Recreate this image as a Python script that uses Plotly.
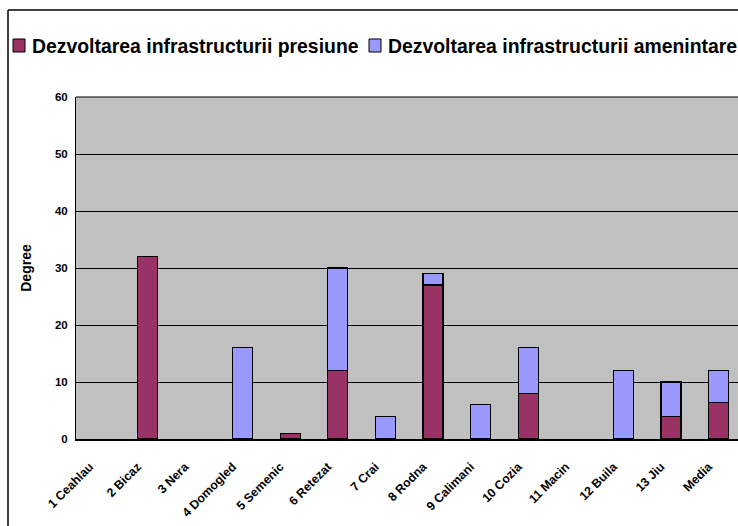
import plotly.graph_objects as go

categories = ["1 Ceahlau", "2 Bicaz", "3 Nera", "4 Domogled", "5 Semenic", "6 Retezat",
              "7 Crai", "8 Rodna", "9 Calimani", "10 Cozia", "11 Macin", "12 Buila",
              "13 Jiu", "Media"]
presiune = [0, 32, 0, 0, 1, 12, 0, 27, 0, 8, 0, 0, 4, 6.46]
amenintare = [0, 0, 0, 16, 0, 18, 4, 2, 6, 8, 0, 12, 6, 5.54]
y_ticks = [0, 10, 20, 30, 40, 50, 60]
series_names = ["Dezvoltarea infrastructurii presiune", "Dezvoltarea infrastructurii amenintare"]
series_colors = ["#993366", "#9999FF"]

W, H = 738, 526
L, R, T, B = 76, 0, 97, 87
pw = W - L - R
ph = H - T - B
step = 47.6
xmax = -0.5 + pw / step


def px2x(px):
    return (px - L) / pw


def py2y(py):
    return (H - B - py) / ph


fig = go.Figure()
for vals, name, col in zip([presiune, amenintare], series_names, series_colors):
    fig.add_trace(go.Bar(x=categories, y=[v if v else None for v in vals], name=name,
                         marker=dict(color=col, line=dict(color="black", width=1.3)),
                         width=0.42, showlegend=False, hoverinfo="skip"))

# manual legend (swatches + text)
shapes = []
annotations = []
legend_swatch_x = [13, 369]
for sx, name, col in zip(legend_swatch_x, series_names, series_colors):
    shapes.append(dict(type="rect", xref="paper", yref="paper",
                       x0=px2x(sx), x1=px2x(sx + 12), y0=py2y(52), y1=py2y(39),
                       fillcolor=col, line=dict(color="black", width=1)))
    annotations.append(dict(text=name, xref="paper", yref="paper", x=px2x(sx + 18),
                            y=py2y(46), xanchor="left", yanchor="middle", showarrow=False,
                            font=dict(size=19.4, weight="bold", color="black"), borderpad=0))

shapes += [
    dict(type="line", xref="paper", yref="paper", x0=px2x(8), x1=px2x(8),
         y0=py2y(10), y1=py2y(530), line=dict(color="black", width=1.5)),
    dict(type="line", xref="paper", yref="paper", x0=px2x(8), x1=px2x(745),
         y0=py2y(10), y1=py2y(10), line=dict(color="black", width=1.5)),
    dict(type="line", xref="paper", yref="paper", x0=0, x1=1, y0=1, y1=1,
         line=dict(color="black", width=1)),
]

fig.update_layout(
    width=W, height=H,
    barmode="stack",
    plot_bgcolor="#C0C0C0",
    paper_bgcolor="white",
    margin=dict(l=L, r=R, t=T, b=B, pad=0),
    font=dict(family="Liberation Sans, Arial", color="black"),
    showlegend=False,
    xaxis=dict(type="category", range=[-0.5, xmax], showgrid=False,
               tickangle=-45, tickfont=dict(size=12.3, weight="bold"),
               ticklabelstandoff=14, ticklabelshift=-10,
               showline=True, linecolor="black", linewidth=1.5, ticks="", zeroline=False,
               automargin=False),
    yaxis=dict(range=[0, 60], tickvals=y_ticks, showgrid=True, gridcolor="black", gridwidth=1,
               tickfont=dict(size=11.5, weight="bold"), ticklabelstandoff=5,
               showline=True, linecolor="black", linewidth=1, ticks="",
               zeroline=False, automargin=False,
               title=dict(text="Degree", font=dict(size=14, weight="bold"), standoff=20)),
    shapes=shapes,
    annotations=annotations,
)

fig.write_html("out.html", config={"displayModeBar": False},
               post_script="document.body.style.margin='0px';")
